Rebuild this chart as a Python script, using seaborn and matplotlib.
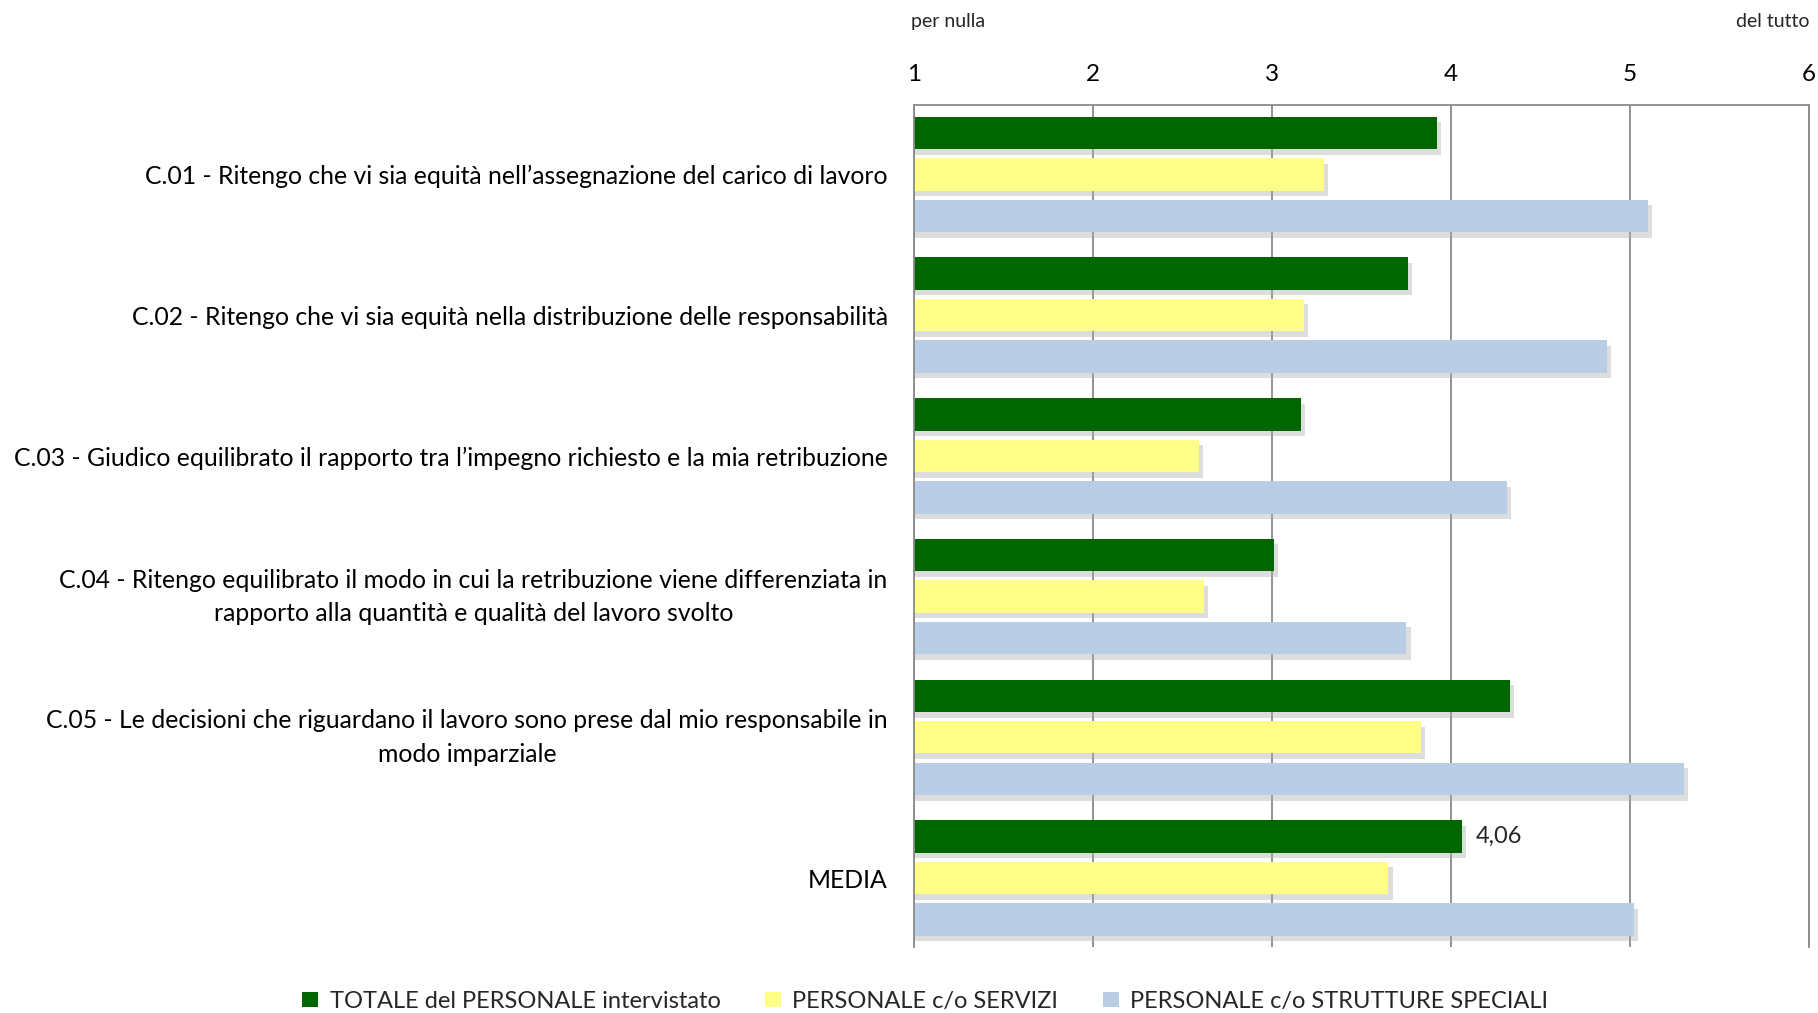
import matplotlib
matplotlib.use("Agg")
import matplotlib.pyplot as plt
import matplotlib.patheffects as pe
import matplotlib.transforms as mtransforms
from matplotlib.patches import Patch
import seaborn as sns
import pandas as pd

# ---- data ----
questions = [
    "C.01 - Ritengo che vi sia equità nell\u2019assegnazione del carico di lavoro",
    "C.02 - Ritengo che vi sia equità nella distribuzione delle responsabilità",
    "C.03 - Giudico equilibrato il rapporto tra l\u2019impegno richiesto e la mia retribuzione",
    "C.04 - Ritengo equilibrato il modo in cui la retribuzione viene differenziata in\nrapporto alla quantità e qualità del lavoro svolto",
    "C.05 - Le decisioni che riguardano il lavoro sono prese dal mio responsabile in\nmodo imparziale",
    "MEDIA",
]
series_names = [
    "TOTALE del PERSONALE intervistato",
    "PERSONALE c/o SERVIZI",
    "PERSONALE c/o STRUTTURE SPECIALI",
]
totale = [3.92, 3.76, 3.16, 3.01, 4.33, 4.06]
servizi = [3.29, 3.18, 2.59, 2.62, 3.83, 3.65]
strutture = [5.10, 4.87, 4.31, 3.75, 5.30, 5.02]
x_ticks = [1, 2, 3, 4, 5, 6]
media_label = "4,06"

colors = ["#006600", "#FFFF88", "#B9CDE5"]

rows = []
for name, vals in zip(series_names, [totale, servizi, strutture]):
    for q, v in zip(questions, vals):
        rows.append({"domanda": q, "valore": v, "gruppo": name})
df = pd.DataFrame(rows)

sns.set_theme(style="white")
plt.rcParams["font.family"] = ["Lato", "DejaVu Sans"]

fig = plt.figure(figsize=(18.18, 10.13), dpi=100)
ax = fig.add_axes([0.5028, 0.0652, 0.4923, 0.8307])

sns.barplot(data=df, y="domanda", x="valore", hue="gruppo", order=questions,
            hue_order=series_names, palette=colors, orient="h",
            width=0.885, gap=0.22, saturation=1, legend=False, ax=ax,
            errorbar=None)

shadow = [pe.SimplePatchShadow(offset=(3, -4), shadow_rgbFace="#aaaaaa", alpha=0.4),
          pe.Normal()]
for p in ax.patches:
    p.set_path_effects(shadow)
    p.set_linewidth(0)

ax.set_xlim(1, 6)
ax.set_ylim(5.49, -0.49)
ax.set_xticks(x_ticks)
ax.set_xticklabels([str(t) for t in x_ticks])
ax.xaxis.tick_top()
ax.xaxis.set_label_position("top")
ax.set_xlabel("")
ax.set_ylabel("")
ax.grid(axis="x", color="#8a8a8a", linewidth=1.3)
ax.set_axisbelow(True)
ax.tick_params(axis="x", length=0, pad=15, labelsize=17.5, colors="black")
ax.tick_params(axis="y", length=0, pad=19, labelsize=17.8, colors="black")
shift_up = mtransforms.ScaledTranslation(0, 5 / 72, fig.dpi_scale_trans)
for lab in ax.get_yticklabels():
    lab.set_multialignment("center")
    lab.set_linespacing(1.55)
    if "\n" in lab.get_text():
        lab.set_transform(lab.get_transform() + shift_up)

for side in ["top", "left", "right"]:
    ax.spines[side].set_visible(True)
    ax.spines[side].set_color("#8a8a8a")
    ax.spines[side].set_linewidth(1.3)
ax.spines["bottom"].set_visible(False)

# annotation for MEDIA
green_bars = ax.containers[0]
b = green_bars[5]
ax.text(b.get_width() + 0.08, b.get_y() + b.get_height() / 2, media_label,
        ha="left", va="center", fontsize=17)

ax.text(-0.004, 1.1, "per nulla", transform=ax.transAxes, ha="left", va="center",
        fontsize=14)
ax.text(1.0, 1.1, "del tutto", transform=ax.transAxes, ha="right", va="center",
        fontsize=14)

handles = [Patch(facecolor=c, edgecolor="none") for c in colors]
fig.legend(handles, series_names, loc="center", bbox_to_anchor=(0.509, 0.0115),
           ncol=3, frameon=False, fontsize=17, handlelength=0.65,
           handleheight=0.65, handletextpad=0.5, columnspacing=1.9)

fig.savefig("out.png", dpi=100)
